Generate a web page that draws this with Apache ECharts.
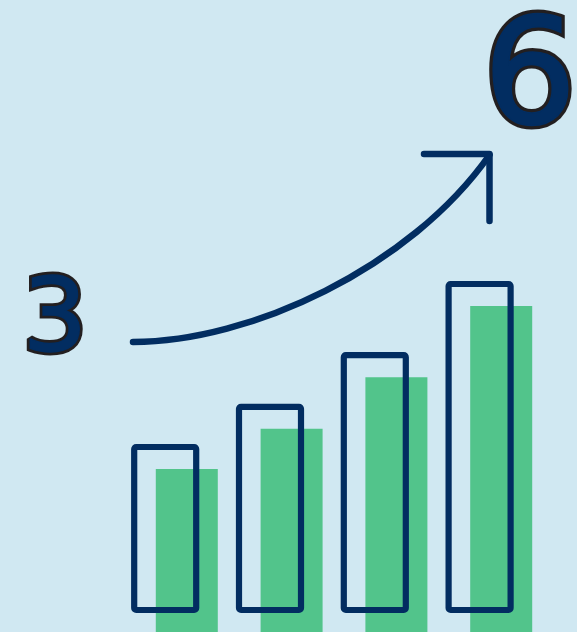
<!DOCTYPE html>
<html><head><meta charset="utf-8">
<script src="https://cdn.jsdelivr.net/npm/echarts@6/dist/echarts.min.js"></script>
<style>html,body{margin:0;padding:0;background:#d0e8f2;}#c{width:577px;height:632px;}</style>
</head><body><div id="c"></div>
<script>
// ---- data ----
const categories = ['1', '2', '3', '4'];
const fillValues = [3, 3.74, 4.69, 6];
const outlineValues = [3, 3.74, 4.69, 6];
const startLabel = String(fillValues[0]);
const endLabel = String(fillValues[fillValues.length - 1]);

// ---- styles ----
const NAVY = '#022d61', GREEN = '#52c48b', BG = '#d0e8f2', INK = '#231f20';

const chart = echarts.init(document.getElementById('c'), null, { renderer: 'canvas' });

function digit(text, x, y, size, inner, outer) {
  return [
    { type: 'text', z: 10, silent: true,
      style: { text: text, x: x, y: y, textAlign: 'center', textVerticalAlign: 'middle',
        font: 'normal ' + size + 'px "DejaVu Sans"', fill: INK, stroke: INK,
        lineWidth: outer, lineJoin: 'round' } },
    { type: 'text', z: 11, silent: true,
      style: { text: text, x: x, y: y, textAlign: 'center', textVerticalAlign: 'middle',
        font: 'normal ' + size + 'px "DejaVu Sans"', fill: NAVY, stroke: NAVY,
        lineWidth: inner, lineJoin: 'round' } }
  ];
}

const OUTLINE_W = 62;

const option = {
  backgroundColor: BG,
  animation: false,
  grid: [
    { left: 134.4, width: 419.2, top: 306, bottom: 0 },
    { left: 112.8, width: 419.2, top: 284, bottom: 22 }
  ],
  xAxis: [
    { type: 'category', data: categories, gridIndex: 0, show: false },
    { type: 'category', data: categories, gridIndex: 1, show: false }
  ],
  yAxis: [
    { type: 'value', min: 0, max: 6, gridIndex: 0, show: false },
    { type: 'value', min: 0, max: 6, gridIndex: 1, show: false }
  ],
  series: [
    { type: 'bar', xAxisIndex: 0, yAxisIndex: 0, data: fillValues, barWidth: 62, z: 1,
      itemStyle: { color: GREEN } },
    { type: 'custom', xAxisIndex: 1, yAxisIndex: 1, z: 2,
      data: outlineValues.map(function (v, i) { return [i, v]; }),
      renderItem: function (params, api) {
        const top = api.coord([api.value(0), api.value(1)]);
        const base = api.coord([api.value(0), 0]);
        return {
          type: 'rect',
          shape: { x: top[0] - OUTLINE_W / 2, y: top[1], width: OUTLINE_W, height: base[1] - top[1], r: 2 },
          style: { fill: 'none', stroke: NAVY, lineWidth: 6.2 }
        };
      } }
  ],
  graphic: [
    { type: 'bezierCurve', z: 5, silent: true,
      shape: { x1: 133, y1: 342, cpx1: 250, cpy1: 342, cpx2: 410, cpy2: 268, x2: 489.5, y2: 155 },
      style: { stroke: NAVY, lineWidth: 6.5, lineCap: 'round', fill: null } },
    { type: 'polyline', z: 5, silent: true,
      shape: { points: [[424, 154], [489.5, 154], [489.5, 221]] },
      style: { stroke: NAVY, lineWidth: 6.5, lineCap: 'round', lineJoin: 'round', fill: null } }
  ].concat(digit(startLabel, 55, 324, 102, 1.5, 7))
   .concat(digit(endLabel, 530, 85, 146, 2.5, 9))
};
chart.setOption(option);
</script>
</body></html>
